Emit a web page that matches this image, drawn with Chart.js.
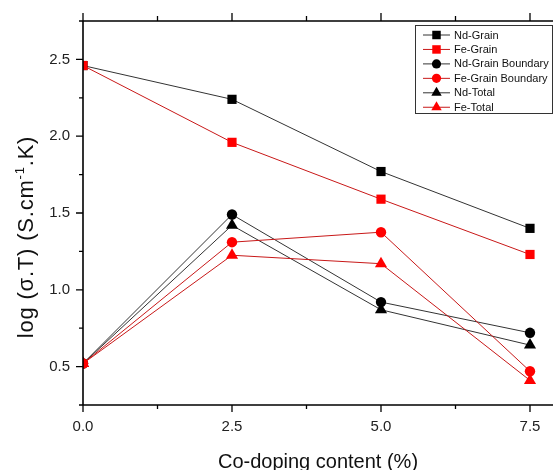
<!DOCTYPE html>
<html>
<head>
<meta charset="utf-8">
<script src="https://cdn.jsdelivr.net/npm/chart.js@4.4.1/dist/chart.umd.min.js"></script>
<style>
  html, body { margin: 0; padding: 0; background: #ffffff; }
  #wrap { width: 553px; height: 470px; }
</style>
</head>
<body>
<div id="wrap"><canvas id="c" width="553" height="470"></canvas></div>
<script>
// ---- data ----
const coDoping = [0, 2.5, 5.0, 7.5];
const ndGrain         = [2.46, 2.24, 1.77, 1.40];
const feGrain         = [2.46, 1.96, 1.59, 1.23];
const ndGrainBoundary = [0.52, 1.49, 0.92, 0.72];
const feGrainBoundary = [0.52, 1.31, 1.375, 0.47];
const ndTotal         = [0.52, 1.42, 0.87, 0.64];
const feTotal         = [0.52, 1.225, 1.17, 0.41];

const xMajorTicks = [0, 2.5, 5.0, 7.5];
const xMinorTicks = [1.25, 3.75, 6.25];
const yMajorTicks = [0.5, 1.0, 1.5, 2.0, 2.5];
const yMinorTicks = [0.25, 0.75, 1.25, 1.75, 2.25, 2.75];

const seriesLabels = ['Nd-Grain', 'Fe-Grain', 'Nd-Grain Boundary', 'Fe-Grain Boundary', 'Nd-Total', 'Fe-Total'];
const seriesValues = [ndGrain, feGrain, ndGrainBoundary, feGrainBoundary, ndTotal, feTotal];
const seriesColors = ['#000000', '#ff0000', '#000000', '#ff0000', '#000000', '#ff0000'];
const seriesLineColors = ['#333333', '#c81818', '#333333', '#c81818', '#333333', '#c81818'];
const seriesShapes = ['rect', 'rect', 'circle', 'circle', 'triangle', 'triangle'];

const xTitle = 'Co-doping content (%)';
const yTitleParts = ['log (σ.T) (S.cm', '-1', '.K)'];

const FONT = "'Liberation Sans', Arial, sans-serif";

const shapeRadius = { rect: 6.5, circle: 5.2, triangle: 7 };

const datasets = seriesLabels.map((lab, i) => ({
  label: lab,
  data: coDoping.map((x, k) => ({ x: x, y: seriesValues[i][k] })),
  borderColor: seriesLineColors[i],
  borderWidth: 1,
  backgroundColor: seriesColors[i],
  pointStyle: seriesShapes[i],
  pointRadius: shapeRadius[seriesShapes[i]],
  pointBackgroundColor: seriesColors[i],
  pointBorderColor: seriesColors[i],
  pointBorderWidth: 0,
  showLine: true,
  tension: 0,
  order: seriesColors[i] === '#ff0000' ? 0 : 1
}));

function drawShape(ctx, shape, cx, cy, r, color) {
  ctx.save();
  ctx.fillStyle = color;
  ctx.beginPath();
  if (shape === 'rect') {
    const s = r * Math.SQRT2;
    ctx.rect(cx - s / 2, cy - s / 2, s, s);
  } else if (shape === 'circle') {
    ctx.arc(cx, cy, r, 0, Math.PI * 2);
  } else {
    ctx.moveTo(cx, cy - r);
    ctx.lineTo(cx - r * 0.866, cy + r / 2);
    ctx.lineTo(cx + r * 0.866, cy + r / 2);
    ctx.closePath();
  }
  ctx.fill();
  ctx.restore();
}

const axesPlugin = {
  id: 'originAxes',
  afterDatasetsDraw(chart) {
    const { ctx, chartArea: a, scales: { x, y } } = chart;
    ctx.save();
    ctx.strokeStyle = '#000';
    ctx.lineWidth = 1.6;
    ctx.beginPath();
    ctx.moveTo(a.left, a.top); ctx.lineTo(a.left, a.bottom);
    ctx.moveTo(a.left, a.bottom); ctx.lineTo(a.right, a.bottom);
    ctx.moveTo(a.left, a.top); ctx.lineTo(a.right, a.top);
    ctx.stroke();
    ctx.lineWidth = 1.3;
    ctx.beginPath();
    yMajorTicks.forEach(v => { const p = y.getPixelForValue(v); ctx.moveTo(a.left - 7, p); ctx.lineTo(a.left, p); });
    yMinorTicks.forEach(v => { const p = y.getPixelForValue(v); ctx.moveTo(a.left - 4, p); ctx.lineTo(a.left, p); });
    xMajorTicks.forEach(v => {
      const p = x.getPixelForValue(v);
      ctx.moveTo(p, a.bottom); ctx.lineTo(p, a.bottom + 7);
      ctx.moveTo(p, a.top); ctx.lineTo(p, a.top - 8);
    });
    xMinorTicks.forEach(v => {
      const p = x.getPixelForValue(v);
      ctx.moveTo(p, a.bottom); ctx.lineTo(p, a.bottom + 4);
      ctx.moveTo(p, a.top); ctx.lineTo(p, a.top - 5);
    });
    ctx.stroke();

    // y-axis title with a real superscript
    ctx.translate(27, 237);
    ctx.rotate(-Math.PI / 2);
    ctx.fillStyle = '#111';
    ctx.textBaseline = 'middle';
    ctx.textAlign = 'left';
    const big = '22px ' + FONT, small = '13px ' + FONT;
    if ('letterSpacing' in ctx) ctx.letterSpacing = '0.8px';
    ctx.font = big;
    const w0 = ctx.measureText(yTitleParts[0]).width;
    const w2 = ctx.measureText(yTitleParts[2]).width;
    ctx.font = small;
    const w1 = ctx.measureText(yTitleParts[1]).width;
    let px = -(w0 + w1 + w2) / 2;
    ctx.font = big;
    ctx.fillText(yTitleParts[0], px, 0); px += w0;
    ctx.font = small;
    ctx.fillText(yTitleParts[1], px, -7); px += w1;
    ctx.font = big;
    ctx.fillText(yTitleParts[2], px, 0);
    ctx.restore();
  }
};

const legendPlugin = {
  id: 'boxLegend',
  afterDraw(chart) {
    const ctx = chart.ctx;
    const box = { left: 415.5, top: 25.5, right: 552.5, bottom: 113.5 };
    ctx.save();
    ctx.strokeStyle = '#333';
    ctx.lineWidth = 1;
    ctx.strokeRect(box.left, box.top, box.right - box.left, box.bottom - box.top);
    ctx.font = '11px ' + FONT;
    ctx.textBaseline = 'middle';
    ctx.textAlign = 'left';
    chart.data.datasets.forEach((ds, i) => {
      const cy = 35 + i * 14.45;
      ctx.strokeStyle = ds.borderColor;
      ctx.lineWidth = 1;
      ctx.beginPath();
      ctx.moveTo(423, cy); ctx.lineTo(450, cy);
      ctx.stroke();
      const rr = ds.pointStyle === 'rect' ? 6 : (ds.pointStyle === 'circle' ? 4.6 : 6);
      drawShape(ctx, ds.pointStyle, 436.5, cy, rr, ds.pointBackgroundColor);
      ctx.fillStyle = '#111';
      ctx.fillText(ds.label, 454, cy + 0.5);
    });
    ctx.restore();
  }
};

new Chart(document.getElementById('c'), {
  type: 'scatter',
  data: { datasets: datasets },
  plugins: [axesPlugin, legendPlugin],
  options: {
    responsive: false,
    devicePixelRatio: 1,
    animation: false,
    layout: { autoPadding: false, padding: { top: 21, right: 0, left: 0, bottom: 0 } },
    plugins: { legend: { display: false }, tooltip: { enabled: false } },
    scales: {
      x: {
        type: 'linear',
        min: 0,
        max: 7.886,
        afterFit: s => { s.height = 65; s.paddingRight = 0; s.paddingLeft = 0; },
        afterBuildTicks: s => { s.ticks = xMajorTicks.map(v => ({ value: v })); },
        border: { display: false },
        grid: { display: true, drawOnChartArea: false, drawTicks: true, tickLength: 7, tickColor: 'rgba(0,0,0,0)' },
        ticks: {
          autoSkip: false,
          maxRotation: 0,
          padding: 6,
          color: '#222',
          font: { family: FONT, size: 15 },
          callback: v => Number(v).toFixed(1)
        },
        title: {
          display: true,
          text: xTitle,
          color: '#111',
          font: { family: FONT, size: 20, lineHeight: 0.8 },
          padding: { top: 0, bottom: 0 }
        }
      },
      y: {
        type: 'linear',
        min: 0.25,
        max: 2.75,
        afterFit: s => { s.width = 83; s.paddingTop = 0; s.paddingBottom = 0; },
        afterBuildTicks: s => { s.ticks = yMajorTicks.map(v => ({ value: v })); },
        border: { display: false },
        grid: { display: true, drawOnChartArea: false, drawTicks: true, tickLength: 7, tickColor: 'rgba(0,0,0,0)' },
        ticks: {
          padding: 6,
          color: '#222',
          font: { family: FONT, size: 15 },
          callback: v => Number(v).toFixed(1)
        },
        title: { display: false }
      }
    }
  }
});
</script>
</body>
</html>
